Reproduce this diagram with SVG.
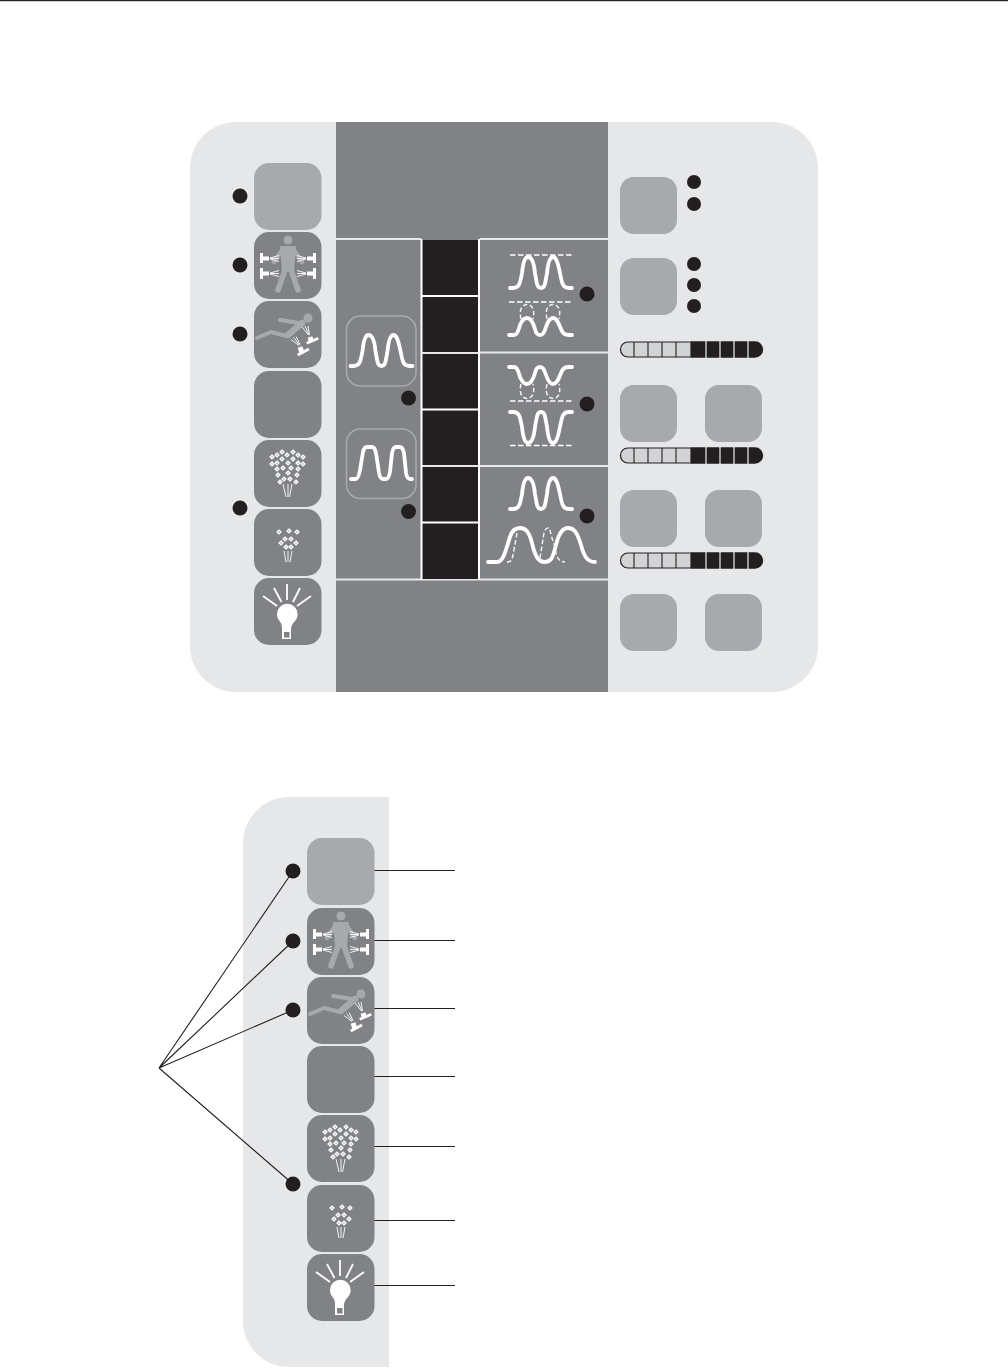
<svg xmlns="http://www.w3.org/2000/svg" width="1008" height="1368" viewBox="0 0 1008 1368">
<style>
.lt{fill:#e6e7e8}.dk{fill:#808285}.pale{fill:#a7a9ac}.d{fill:#231f20}
.w{fill:none;stroke:#fff;stroke-width:3.8;stroke-linecap:round;stroke-linejoin:round}
.wd{fill:none;stroke:#f1f2f2;stroke-width:1.5;stroke-dasharray:4.5 2.5}
.dash{fill:none;stroke:#fff;stroke-width:1.7;stroke-dasharray:5.5 2.5}
.sep{stroke:#e6e7e8;stroke-width:2;fill:none}
.wl{stroke:#fff;stroke-width:2;fill:none}
.ld{stroke:#231f20;stroke-width:1.1;fill:none}
.pers{fill:none;stroke:#a7a9ac;stroke-linecap:round;stroke-linejoin:round}
.ic{fill:none;stroke:#fff;stroke-width:.9}
.ray{fill:none;stroke:#fff;stroke-width:1.8}
.noz{fill:none;stroke:#fff}
.fr{fill:none;stroke:#a7a9ac;stroke-width:1.6}
</style>
<defs>
<rect id="btn" width="67.5" height="67" rx="15"/>
<rect id="sb" width="57" height="57" rx="14"/>
<path id="pk" d="M0 31H3C9 31 10 27 12 16C13 6 15 0 18 0C22 0 24 6 25 16C27 27 27 31 31 31C35 31 35 27 37 16C38 6 40 0 43 0C46 0 48 6 50 16C52 27 53 31 59 31H62"/>
<g id="person">
<circle cx="34" cy="8" r="4.500" fill="#a7a9ac"/>
<path class="pers" stroke-width="4.500" d="M29 17L20 30M39 17L48 30"/>
<path d="M27 15H41L39 39H29Z" fill="#a7a9ac" stroke="#a7a9ac" stroke-width="2" stroke-linejoin="round"/>
<path class="pers" stroke-width="5.500" d="M31 38L24 58M37 38L44 58"/>
<path d="M6 21H9V24.500H15V28.500H9V31H6ZM6 36H9V39.500H15V43.500H9V47H6ZM62 21H59V24.500H53V28.500H59V31H62ZM62 36H59V39.500H53V43.500H59V47H62Z" fill="#fff"/>
<path class="ic" d="M16 26L25 23.500M16 26.500L25 26.500M16 27L25 29.500M16 41L25 38.500M16 41.500L25 41.500M16 42L25 44.500M52 26L43 23.500M52 26.500L43 26.500M52 27L43 29.500M52 41L43 38.500M52 41.500L43 41.500M52 42L43 44.500"/>
</g>
<g id="kick">
<circle cx="54" cy="17" r="4.500" fill="#a7a9ac"/>
<path class="pers" stroke-width="4" d="M26 19L45 22M33 35L17 31L3 37"/>
<path class="pers" stroke-width="6.500" d="M48 22L34 34"/>
<path class="noz" stroke-width="2.800" d="M52.700 42.300L64.300 37.300M43.700 54L55 48"/>
<path class="noz" stroke-width="5" d="M56 36L57.500 41M46 46L48 52"/>
<path class="ic" d="M54.500 34L48 26M55 34L51 25M55.500 34L54 25M45 44.500L37 38.500M45.500 44L39.500 36.500M46 43.500L42 35.500"/>
</g>
<path id="dm" d="M0 -2L2 0L0 2L-2 0Z" fill="#b5b7ba" stroke="#fff" stroke-width="1.200"/>
<g id="spray1">
<use href="#dm" x="18" y="17"/><use href="#dm" x="23" y="15"/><use href="#dm" x="28" y="12"/><use href="#dm" x="33" y="15"/><use href="#dm" x="39" y="12"/><use href="#dm" x="44" y="15"/><use href="#dm" x="49" y="17"/>
<use href="#dm" x="18" y="24"/><use href="#dm" x="23" y="23"/><use href="#dm" x="28" y="19"/><use href="#dm" x="34" y="23"/><use href="#dm" x="39" y="19"/><use href="#dm" x="44" y="23"/><use href="#dm" x="49" y="24"/>
<use href="#dm" x="23" y="29"/><use href="#dm" x="29" y="28"/><use href="#dm" x="37" y="28"/><use href="#dm" x="44" y="29"/>
<use href="#dm" x="24" y="35"/><use href="#dm" x="34" y="33"/><use href="#dm" x="43" y="35"/>
<use href="#dm" x="26" y="42"/><use href="#dm" x="30" y="39"/><use href="#dm" x="36" y="39"/><use href="#dm" x="42" y="42"/>
<path class="ic" d="M29 44L32 57M34 44V57M38 44L35.500 57"/>
</g>
<g id="spray2">
<use href="#dm" x="25" y="23"/><use href="#dm" x="35" y="22"/><use href="#dm" x="43" y="23"/>
<use href="#dm" x="31" y="30"/><use href="#dm" x="37" y="30"/><use href="#dm" x="27" y="34"/><use href="#dm" x="42" y="34"/>
<use href="#dm" x="32" y="38"/><use href="#dm" x="37" y="38"/>
<path class="ic" d="M30 42L32 53M34 42V53M38 42L36 53"/>
</g>
<g id="bulb">
<path d="M25.500 43C23.500 40.500 23 38.500 23 36A10.300 10.300 0 1 1 43.600 36C43.600 38.500 43 40.500 41 43C38.500 46 37 48 37 51V61H28V51C28 48 28 46 25.500 43Z" fill="#fff"/>
<rect x="30" y="54" width="5.500" height="5.500" fill="#808285"/>
<path class="ray" d="M33 6V22M20 10L27.500 24M46 10L39 24M9 18L23 28M57 18L43 28"/>
</g>
<g id="bar">
<path d="M8 1H71V16H8A7.500 7.500 0 0 1 8 1Z" fill="#d1d3d4" stroke="#231f20" stroke-width="1.200"/>
<path d="M71 .3H135A8.200 8.200 0 0 1 135 16.700H71Z" fill="#231f20"/>
<path d="M14 1V16M28 1V16M42 1V16M56 1V16" stroke="#231f20" stroke-width="1.100" fill="none"/>
<path d="M86 0V17M100 0V17M114 0V17M128 0V17" stroke="#fff" stroke-width="1.100" fill="none"/>
</g>
</defs>

<rect id="page-rule" x="0" y="0" width="1008" height="1.200" fill="#231f20"/>

<g id="top-panel">
<rect class="lt" x="190" y="122" width="628" height="570" rx="46"/>
<rect class="dk" x="336" y="122" width="272" height="570"/>
<path class="sep" d="M336 239H421M480 239H608M480 352.500H608M480 466H608M336 579.500H608"/>
</g>

<g id="black-column">
<rect x="422" y="240" width="57" height="339" class="d"/>
<path class="wl" d="M421.500 239V580M479 239V580M422 296H479M422 409.500H479M422 522.500H479"/>
<path class="sep" d="M422 353H479M422 466H479"/>
</g>

<g id="top-left-buttons">
<use href="#btn" class="pale" x="254" y="163"/>
<g id="tb2" transform="translate(254,232)"><use href="#btn" class="dk"/><use href="#person"/></g>
<g id="tb3" transform="translate(254,301)"><use href="#btn" class="dk"/><use href="#kick"/></g>
<use id="tb4" href="#btn" class="dk" x="254" y="371"/>
<g id="tb5" transform="translate(254,440)"><use href="#btn" class="dk"/><use href="#spray1"/></g>
<g id="tb6" transform="translate(254,509)"><use href="#btn" class="dk"/><use href="#spray2"/></g>
<g id="tb7" transform="translate(254,578)"><use href="#btn" class="dk"/><use href="#bulb"/></g>
</g>

<g id="top-left-dots" class="d">
<circle cx="240" cy="196" r="7.500"/><circle cx="240" cy="265" r="7.500"/><circle cx="240" cy="334" r="7.500"/><circle cx="240" cy="508" r="7.500"/>
</g>

<g id="wave-buttons">
<rect class="fr" x="346.500" y="316" width="69.500" height="70" rx="14"/>
<use href="#pk" class="w" x="350.500" y="335"/>
<rect class="fr" x="346.500" y="429" width="69.500" height="69.500" rx="14"/>
<path class="w" d="M351 479H356C358 479 359 475 360 470L363 452C364 448 365 447 367 447H372C374 447 375 449 376 453L379 473C380 478 381 479 383 479H386C388 479 389 477 390 472L392 453C393 448 394 447 396 447H400C402 447 403 449 404 453L406 473C407 478 408 479 410 479H412"/>
<circle class="d" cx="408.500" cy="398" r="7.500"/>
<circle class="d" cx="408.500" cy="511.500" r="7.500"/>
</g>

<g id="wave-graphs">
<path class="dash" d="M510 255H572"/>
<use href="#pk" class="w" x="510" y="257"/>
<path class="dash" d="M509 302H572"/>
<path class="wd" d="M521 319C518 306 525 304.500 527 304.500C529 304.500 536 306 533 319M547 319C544 306 551 304.500 553 304.500C555 304.500 562 306 559 319"/>
<path class="w" d="M509 335H514C519 335 519 325 521 323C523 319 525 318 527 318C531 318 533 322 535 329C536 334 538 335 540 335C543 335 544 333 546 327C548 321 550 318 553 318C556 318 558 321 561 329C563 334 565 335 569 335H572"/>
<path class="wd" d="M521 384C518 397 525 398.500 527 398.500C529 398.500 536 397 533 384M547 384C544 397 551 398.500 553 398.500C555 398.500 562 397 559 384"/>
<path class="w" d="M509 367H514C519 367 519 377 521 379C523 383 525 384 527 384C531 384 533 380 535 373C536 368 538 367 540 367C543 367 544 369 546 375C548 381 550 384 553 384C556 384 558 381 561 373C563 368 565 367 569 367H572"/>
<path class="dash" d="M510 401H572"/>
<path class="w" d="M510 412H513C519 412 520 416 522 427C523 437 525 443 528 443C532 443 534 437 535 427C537 416 537 412 541 412C545 412 545 416 547 427C548 437 550 443 553 443C556 443 558 437 560 427C562 416 563 412 569 412H572"/>
<path class="dash" d="M510 445.500H572"/>
<use href="#pk" class="w" x="510" y="478"/>
<path class="w" d="M488 562H497C504 562 506 548 510 537C512 530 516 528 520 528C526 528 529 532 532 543C535 556 538 562 545 562C552 562 553 556 556 545C559 532 563 528 568 528C574 528 577 532 581 545C584 556 587 562 595 562"/>
<path class="wd" d="M507 562C513 562 512 558 514 550L517 533M540 558L544 533C545 529 547 528 548 528C550 528 550 530 551 535L555 547C556 556 558 562 565 562"/>
<circle class="d" cx="587" cy="294" r="7.500"/>
<circle class="d" cx="587" cy="404" r="7.500"/>
<circle class="d" cx="587" cy="516" r="7.500"/>
</g>

<g id="right-controls">
<use href="#sb" class="pale" x="620" y="177"/>
<use href="#sb" class="pale" x="620" y="258"/>
<use href="#sb" class="pale" x="620" y="385"/>
<use href="#sb" class="pale" x="705" y="385"/>
<use href="#sb" class="pale" x="620" y="490"/>
<use href="#sb" class="pale" x="705" y="490"/>
<use href="#sb" class="pale" x="620" y="594"/>
<use href="#sb" class="pale" x="705" y="594"/>
<g class="d"><circle cx="694" cy="182" r="7"/><circle cx="694" cy="204" r="7"/><circle cx="694" cy="264" r="7"/><circle cx="694" cy="285" r="7"/><circle cx="694" cy="306" r="7"/></g>
<use href="#bar" x="620" y="341"/>
<use href="#bar" x="620" y="447"/>
<use href="#bar" x="620" y="552"/>
</g>

<g id="bottom-panel">
<path class="lt" d="M389 797H289A46 46 0 0 0 243 843V1321A46 46 0 0 0 289 1367H389Z"/>
</g>

<g id="connectors">
<path class="ld" d="M159 1068L293 871M159 1068L293 941M159 1068L293 1010M159 1068L293 1184"/>
<path class="ld" d="M374 870.500H455M374 940.500H455M374 1008.500H455M374 1076.500H455M374 1146.500H455M374 1220.500H455M374 1285.500H455"/>
</g>

<g id="bottom-buttons">
<use href="#btn" class="pale" x="307" y="838"/>
<g transform="translate(307,908)"><use href="#btn" class="dk"/><use href="#person"/></g>
<g transform="translate(307,977)"><use href="#btn" class="dk"/><use href="#kick"/></g>
<use href="#btn" class="dk" x="307" y="1046"/>
<g transform="translate(307,1115)"><use href="#btn" class="dk"/><use href="#spray1"/></g>
<g transform="translate(307,1185)"><use href="#btn" class="dk"/><use href="#spray2"/></g>
<g transform="translate(307,1254)"><use href="#btn" class="dk"/><use href="#bulb"/></g>
</g>

<g id="bottom-dots" class="d">
<circle cx="293" cy="871" r="7.500"/><circle cx="293" cy="941" r="7.500"/><circle cx="293" cy="1010" r="7.500"/><circle cx="293" cy="1184" r="7.500"/>
</g>
</svg>
